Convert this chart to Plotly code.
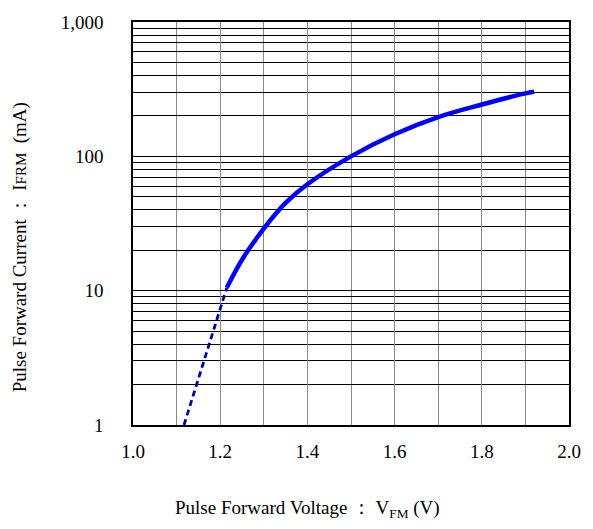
import plotly.graph_objects as go

# Measured characteristic (solid) and extrapolated low-current region (dashed)
vf_solid = [1.215, 1.25, 1.30, 1.35, 1.40, 1.50, 1.60, 1.70, 1.80, 1.90, 1.92]
if_solid = [10.5, 17, 29, 45, 62, 100, 146, 196, 243, 294, 302]
vf_dash = [1.117, 1.215]
if_dash = [1.0, 10.5]

x_ticks = [1.0, 1.2, 1.4, 1.6, 1.8, 2.0]
x_ticktext = ["1.0", "1.2", "1.4", "1.6", "1.8", "2.0"]

FONT = "Liberation Serif, Times New Roman, serif"

fig = go.Figure()
fig.add_trace(go.Scatter(
    x=vf_dash, y=if_dash, mode="lines",
    line=dict(color="#0000A8", width=2.8, dash="6px,4px"),
    showlegend=False, hoverinfo="skip"))
fig.add_trace(go.Scatter(
    x=vf_solid, y=if_solid, mode="lines",
    line=dict(color="#0000FF", width=4.5, shape="spline"),
    showlegend=False))

fig.update_layout(
    width=593, height=529,
    margin=dict(l=133, r=16, t=17, b=104),
    paper_bgcolor="white", plot_bgcolor="white",
    font=dict(family=FONT, size=18, color="black"),
    separators=".,",
    xaxis=dict(
        range=[1.0, 2.0], tickvals=x_ticks, ticktext=x_ticktext,
        showgrid=True, gridcolor="#888888", gridwidth=1,
        minor=dict(dtick=0.1, tick0=1.0, showgrid=True,
                   gridcolor="#888888", gridwidth=1),
        showline=True, linecolor="black", linewidth=1.5, mirror=True,
        ticks="", ticklabelstandoff=8, zeroline=False,
        tickfont=dict(family=FONT, size=19),
    ),
    yaxis=dict(
        type="log", range=[0, 3], dtick=1, tickformat=",d",
        showgrid=True, gridcolor="black", gridwidth=1,
        minor=dict(dtick="D1", showgrid=True, gridcolor="black", gridwidth=1),
        showline=True, linecolor="black", linewidth=1.5, mirror=True,
        ticks="", ticklabelstandoff=24, zeroline=False,
        tickfont=dict(family=FONT, size=19),
    ),
)

fig.add_annotation(
    text="Pulse Forward Voltage \uff1a V<sub>FM</sub> (V)",
    xref="paper", yref="paper", x=0.40, y=-0.208,
    xanchor="center", yanchor="middle", showarrow=False,
    font=dict(family=FONT, size=19, color="black"))
fig.add_annotation(
    text="Pulse Forward Current \uff1a I<span style='font-size:15px'>FRM</span>  (mA)",
    xref="paper", yref="paper", x=-0.259, y=0.441,
    xanchor="center", yanchor="middle", textangle=-90, showarrow=False,
    font=dict(family=FONT, size=19, color="black"))

fig.write_html("out.html")
